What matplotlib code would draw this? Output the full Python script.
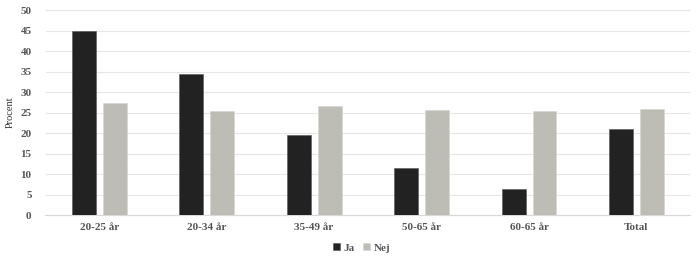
import numpy as np
import matplotlib.pyplot as plt

# Data
categories = ["20-25 år", "20-34 år", "35-49 år", "50-65 år", "60-65 år", "Total"]
ja = [45.0, 34.4, 19.5, 11.5, 6.3, 21.0]
nej = [27.3, 25.4, 26.6, 25.6, 25.4, 25.9]

plt.rcParams["font.family"] = ["Liberation Serif", "DejaVu Serif"]
plt.rcParams["font.weight"] = "bold"

fig = plt.figure(figsize=(7, 2.6), dpi=100)
ax = fig.add_axes([0.065, 0.173, 0.921, 0.7885])

x = np.arange(len(categories))
w = 0.223
off = 0.144
ax.bar(x - off, ja, width=w, color="#222222", edgecolor="#555555", linewidth=0.4, label="Ja", zorder=3)
ax.bar(x + off, nej, width=w, color="#bdbdb5", edgecolor="#d5d5d0", linewidth=0.4, label="Nej", zorder=3)

ax.set_xlim(-0.5, len(categories) - 0.5)
ax.set_ylim(0, 50)
ax.set_yticks(range(0, 51, 5))
ax.set_xticks(x)
ax.set_xticklabels(categories)
ax.yaxis.grid(True, color="#e6e6e6", linewidth=0.8, zorder=0)
ax.tick_params(axis="both", length=0, labelsize=8, colors="#555555")
ax.tick_params(axis="x", pad=6)
ax.tick_params(axis="y", pad=10)
for s in ["top", "right", "left"]:
    ax.spines[s].set_visible(False)
ax.spines["bottom"].set_color("#d9d9d9")

ax.set_ylabel("Procent", fontsize=7.5, color="#333333", labelpad=4)

ax.legend(loc="center", bbox_to_anchor=(0.49, -0.16), ncol=2, frameon=False,
          fontsize=8, handlelength=0.65, handleheight=0.65, handletextpad=0.3,
          columnspacing=0.8, labelcolor="#555555")

fig.savefig("out.png", dpi=100)
